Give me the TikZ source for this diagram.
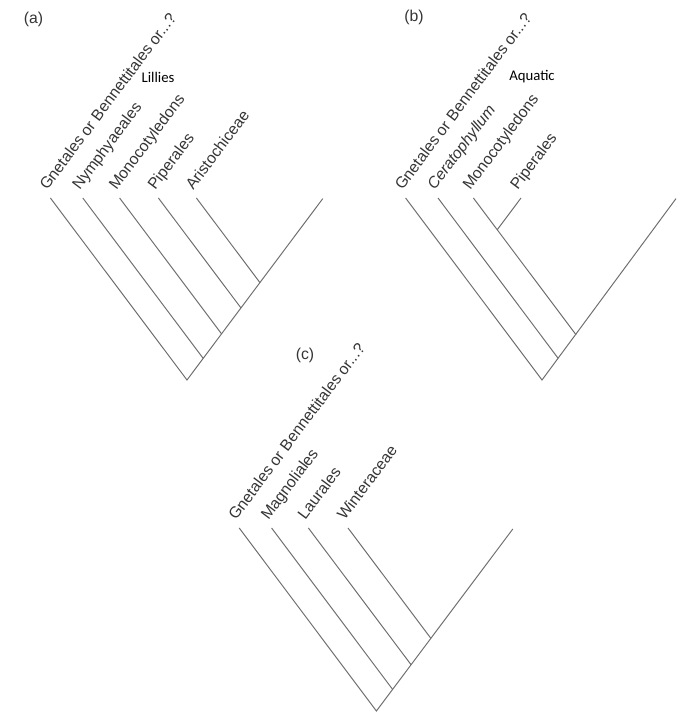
\documentclass[tikz,border=0pt]{standalone}
\usepackage{fontspec}
\usetikzlibrary{calc}
\newfontfamily\taxonfont{Liberation Sans}
\newfontfamily\notefont{Carlito}
\definecolor{branchgray}{HTML}{6E6E6E}
\definecolor{labelgray}{HTML}{353535}

\begin{document}
\begin{tikzpicture}[
  branch/.style={draw=branchgray, line width=0.7pt},
  taxon/.style={rotate=53.13, anchor=base west, inner sep=0pt, text=labelgray,
    font=\taxonfont\fontsize{11.2}{13}\selectfont},
  panel/.style={text=labelgray, font=\taxonfont\fontsize{11.2}{13}\selectfont},
  note/.style={font=\notefont\fontsize{10.5}{12}\selectfont}]
  \useasboundingbox (0,0) rectangle (17.05,18.075);
  % 1. Cây (a)
  \coordinate (ra) at (4.675,8.575);
  \coordinate (a1) at (5.08,9.115);
  \coordinate (a2) at (5.54,9.727);
  \coordinate (a3) at (6.025,10.375);
  \coordinate (a4) at (6.5,11.007);
  \coordinate (ae) at (8.07,13.11);
  \coordinate (ga) at (1.26,13.125);
  \coordinate (nya) at (2.07,13.125);
  \coordinate (moa) at (2.99,13.125);
  \coordinate (pia) at (3.96,13.125);
  \coordinate (ara) at (4.91,13.125);
  \draw[branch] (ga) -- (ra) -- (ae);
  \draw[branch] (nya) -- (a1);
  \draw[branch] (moa) -- (a2);
  \draw[branch] (pia) -- (a3);
  \draw[branch] (ara) -- (a4);
  \node[taxon] (ga-lab) at ($(ga)+(-0.08,0.17)$) {Gnetales or Bennettitales or...?};
  \node[taxon] (nya-lab) at ($(nya)+(-0.08,0.17)$) {Nymphyaeales};
  \node[taxon] (moa-lab) at ($(moa)+(-0.08,0.17)$) {Monocotyledons};
  \node[taxon] (pia-lab) at ($(pia)+(-0.08,0.17)$) {Piperales};
  \node[taxon] (ara-lab) at ($(ara)+(-0.08,0.17)$) {Aristochiceae};
  \node[panel] (pa) at (0.84,17.6) {(a)};
  \node[note] (lillies) at (3.95,16.15) {Lillies};
  % 2. Cây (b)
  \coordinate (rb) at (13.55,8.575);
  \coordinate (b1) at (13.955,9.115);
  \coordinate (b2) at (14.40,9.707);
  \coordinate (be) at (16.9,13.11);
  \coordinate (gb) at (10.14,13.125);
  \coordinate (ceb) at (10.95,13.125);
  \coordinate (mob) at (11.835,13.125);
  \coordinate (bj) at (12.43,12.33);
  \coordinate (pib) at (13.025,13.125);
  \draw[branch] (gb) -- (rb) -- (be);
  \draw[branch] (ceb) -- (b1);
  \draw[branch] (mob) -- (b2);
  \draw[branch] (bj) -- (pib);
  \node[taxon] (gb-lab) at ($(gb)+(-0.08,0.17)$) {Gnetales or Bennettitales or...?};
  \node[taxon] (ceb-lab) at ($(ceb)+(-0.08,0.17)$) {\itshape Ceratophyllum};
  \node[taxon] (mob-lab) at ($(mob)+(-0.08,0.17)$) {Monocotyledons};
  \node[taxon] (pib-lab) at ($(pib)+(-0.08,0.17)$) {Piperales};
  \node[panel] (pb) at (10.35,17.65) {(b)};
  \node[note] (aquatic) at (13.3,16.15) {Aquatic};
  % 3. Cây (c)
  \coordinate (rc) at (9.41,0.3);
  \coordinate (c1) at (9.815,0.84);
  \coordinate (c2) at (10.277,1.456);
  \coordinate (c3) at (10.772,2.116);
  \coordinate (ce) at (12.82,4.85);
  \coordinate (gc) at (5.98,4.875);
  \coordinate (mac) at (6.79,4.875);
  \coordinate (lac) at (7.71,4.875);
  \coordinate (wic) at (8.70,4.875);
  \draw[branch] (gc) -- (rc) -- (ce);
  \draw[branch] (mac) -- (c1);
  \draw[branch] (lac) -- (c2);
  \draw[branch] (wic) -- (c3);
  \node[taxon] (gc-lab) at ($(gc)+(-0.08,0.17)$) {Gnetales or Bennettitales or...?};
  \node[taxon] (mac-lab) at ($(mac)+(-0.08,0.17)$) {Magnoliales};
  \node[taxon] (lac-lab) at ($(lac)+(-0.08,0.17)$) {Laurales};
  \node[taxon] (wic-lab) at ($(wic)+(-0.08,0.17)$) {Winteraceae};
  \node[panel] (pc) at (7.625,9.2) {(c)};
\end{tikzpicture}
\end{document}
